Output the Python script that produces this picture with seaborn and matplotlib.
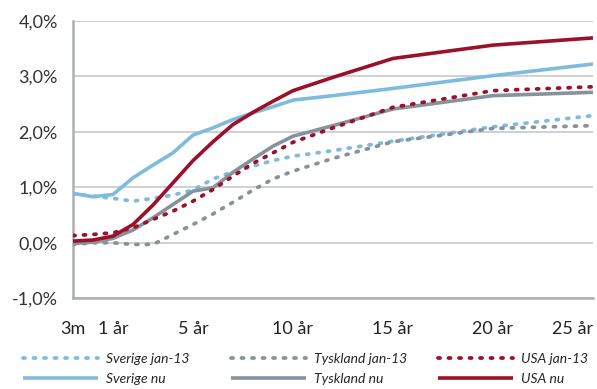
import numpy as np
import pandas as pd
import matplotlib
matplotlib.use("Agg")
import matplotlib.pyplot as plt
import matplotlib.transforms as mtransforms
from matplotlib.lines import Line2D
import seaborn as sns

# löptid i år (3m, 6m, 1 år ...)
loptid = [0.25, 0.5, 1, 2, 3, 4, 5, 6, 7, 8, 9, 10, 12, 15, 20, 25]

sverige_jan13 = [0.88, 0.84, 0.80, 0.75, 0.80, 0.86, 0.95, 1.15, 1.28, 1.38, 1.48, 1.56, 1.66, 1.83, 2.09, 2.29]
tyskland_jan13 = [-0.03, 0.00, 0.00, -0.03, -0.03, 0.15, 0.33, 0.52, 0.73, 0.95, 1.15, 1.29, 1.52, 1.82, 2.06, 2.11]
usa_jan13 = [0.13, 0.15, 0.18, 0.27, 0.42, 0.57, 0.75, 0.96, 1.20, 1.43, 1.62, 1.81, 2.07, 2.44, 2.74, 2.81]
sverige_nu = [0.89, 0.83, 0.87, 1.17, 1.40, 1.62, 1.94, 2.07, 2.22, 2.34, 2.45, 2.57, 2.65, 2.78, 3.01, 3.22]
tyskland_nu = [-0.01, 0.01, 0.08, 0.23, 0.45, 0.69, 0.93, 0.99, 1.27, 1.51, 1.74, 1.92, 2.11, 2.41, 2.65, 2.71]
usa_nu = [0.03, 0.05, 0.12, 0.33, 0.68, 1.08, 1.48, 1.82, 2.13, 2.35, 2.55, 2.74, 2.98, 3.32, 3.56, 3.69]

tick_loptid = [0.25, 1, 5, 10, 15, 20, 25]
tick_labels = ["3m", "1 år", "5 år", "10 år", "15 år", "20 år", "25 år"]

BLA = "#80bbdd"
GRA = "#87939c"
ROD = "#9c1029"
AXEL = "#aab0b5"
GRID = "#c6c9cc"


def pos(m):
    # kategoriaxel: 3m, 6m, 1 år, 2 år, ... en plats var
    m = np.asarray(m, dtype=float)
    return np.where(m < 1, m * 4 - 1, m + 1)


sns.set_style("white")
plt.rcParams["font.family"] = ["Lato", "DejaVu Sans"]

fig = plt.figure(figsize=(5.97, 3.89), dpi=100)
ax = fig.add_axes([73 / 597, 1 - 298.3 / 389, (593 - 73) / 597, (298.3 - 20.7) / 389])

serier = [
    ("Sverige jan-13", sverige_jan13, BLA, "dot"),
    ("Sverige nu", sverige_nu, BLA, "solid"),
    ("Tyskland jan-13", tyskland_jan13, GRA, "dot"),
    ("Tyskland nu", tyskland_nu, GRA, "solid"),
    ("USA jan-13", usa_jan13, ROD, "dot"),
    ("USA nu", usa_nu, ROD, "solid"),
]

dots = (0, (0.55, 2.25))
handles = []
for namn, varden, farg, stil in serier:
    df = pd.DataFrame({"x": pos(loptid), "y": varden})
    if stil == "dot":
        kw = dict(linestyle=dots, linewidth=2.7, dash_capstyle="round")
    else:
        kw = dict(linestyle="-", linewidth=2.6, solid_capstyle="butt")
    sns.lineplot(data=df, x="x", y="y", color=farg, ax=ax, zorder=3, **kw)
    handles.append(Line2D([], [], color=farg, label=namn, **kw))

ax.set_xlim(0, 26)
ax.set_ylim(-1, 4)
ax.set_xlabel("")
ax.set_ylabel("")

ax.set_yticks(np.arange(-1, 4.1, 1))
ax.set_yticklabels([f"{v:.1f}%".replace(".", ",") for v in np.arange(-1, 4.1, 1)], fontsize=13, color="#333333")
ax.yaxis.grid(True, color=GRID, linewidth=1.2)
ax.set_axisbelow(True)

xt = np.arange(0, 27)
ax.set_xticks(xt)
lab = [""] * len(xt)
for m, t in zip(pos(tick_loptid), tick_labels):
    lab[int(m)] = t
ax.set_xticklabels(lab, fontsize=13, color="#222222")
xlabs = ax.get_xticklabels()
xlabs[-1].set_ha("right")
skift = mtransforms.ScaledTranslation(3 / 100, 0, fig.dpi_scale_trans)
for t in xlabs[1:-1]:
    t.set_transform(t.get_transform() + skift)

for s in ["top", "right"]:
    ax.spines[s].set_visible(False)
for s in ["left", "bottom"]:
    ax.spines[s].set_color(AXEL)
    ax.spines[s].set_linewidth(1.8)
ax.tick_params(axis="x", length=5, width=1.2, color=AXEL, direction="out", pad=11)
ax.tick_params(axis="y", length=5, width=1.2, color=AXEL, direction="out", pad=6)

# legend i tre kolumner, placerade var för sig
kol_x = [23, 231, 438]
for i, x0 in enumerate(kol_x):
    fig.legend(handles=handles[2 * i:2 * i + 2], loc="upper left",
               bbox_to_anchor=(x0 / 597, 1 - 353 / 389), frameon=False,
               prop=dict(family=["Lato", "DejaVu Sans"], style="italic", size=10),
               handlelength=5.4, handletextpad=0.55, labelspacing=0.6,
               borderpad=0, borderaxespad=0)

fig.savefig("out.png", dpi=100)
